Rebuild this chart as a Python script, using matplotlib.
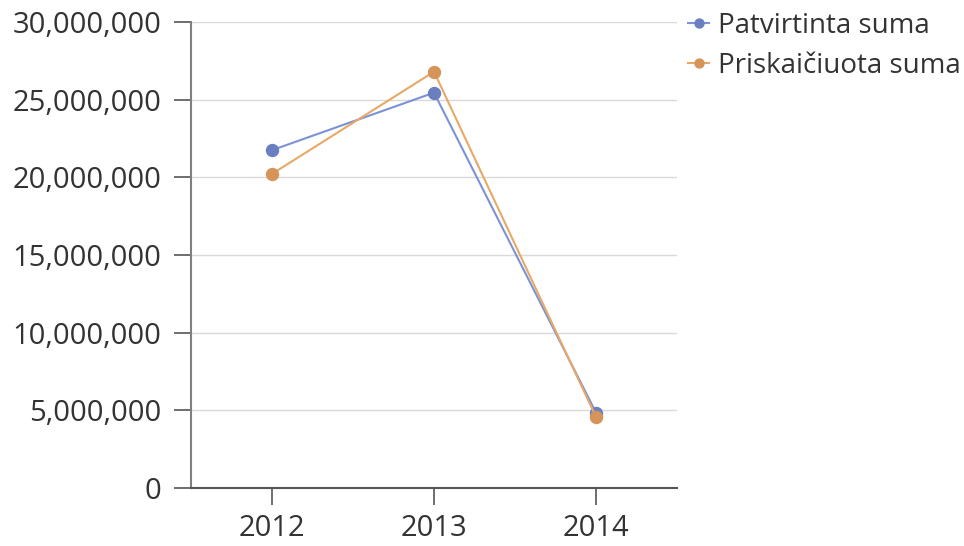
import matplotlib
matplotlib.use("Agg")
import matplotlib.pyplot as plt
from matplotlib.ticker import FuncFormatter

years = ["2012", "2013", "2014"]
patvirtinta = [21750000, 25450000, 4850000]
priskaiciuota = [20220000, 26800000, 4580000]
series_names = ["Patvirtinta suma", "Priskaičiuota suma"]

plt.rcParams['font.family'] = ['Open Sans', 'DejaVu Sans']

fig = plt.figure(figsize=(9.64, 5.46), dpi=100)
ax = fig.add_axes([0.1981, 0.1062, 0.5042, 0.8535])

x = list(range(len(years)))
ax.plot(x, patvirtinta, color='#7b93d6', lw=1.5, marker='o', ms=8.6,
        mfc='#6a7fc1', mec='#6a7fc1', label=series_names[0], zorder=3)
ax.plot(x, priskaiciuota, color='#e8a866', lw=1.5, marker='o', ms=8.6,
        mfc='#d6945a', mec='#d6945a', label=series_names[1], zorder=3)

ax.set_xlim(-0.5, 2.5)
ax.set_ylim(0, 30000000)
ax.set_yticks(range(0, 30000001, 5000000))
ax.yaxis.set_major_formatter(FuncFormatter(lambda v, p: f"{int(v):,}"))
ax.set_xticks(x)
ax.set_xticklabels(years)

ax.grid(axis='y', color='#d9d9d9', lw=1)
ax.set_axisbelow(True)
for s in ['top', 'right']:
    ax.spines[s].set_visible(False)
ax.spines['left'].set_color('#808080')
ax.spines['left'].set_linewidth(1.5)
ax.spines['bottom'].set_color('#555555')
ax.spines['bottom'].set_linewidth(1.5)

ax.tick_params(axis='both', length=12.5, width=1.2, color='#555555',
               labelsize=21, labelcolor='#333333')
ax.tick_params(axis='y', pad=9)
ax.tick_params(axis='x', pad=6)

leg = ax.legend(loc='upper left', bbox_to_anchor=(1.0, 1.045), frameon=False,
                fontsize=20, handlelength=0.75, handletextpad=0.33,
                labelspacing=0.42, borderaxespad=0, markerscale=0.75,
                labelcolor='#333333')

fig.savefig("out.png", dpi=100)
